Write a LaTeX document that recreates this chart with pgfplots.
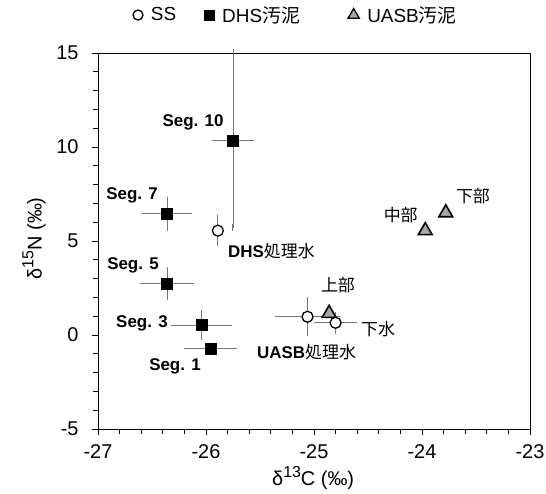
\documentclass[border=0pt]{standalone}
\usepackage{fontspec}
\setmainfont{Liberation Sans}
\newfontfamily\cjk{Noto Sans CJK JP}
\usepackage{pgfplots}
\pgfplotsset{compat=1.18}
\usepackage{pgfplotstable}

\pgfplotstableread{
x y ex ey
-25.89 5.55 0.00 0.63
-25.06 0.97 0.27 0.85
-24.80 0.65 0.17 0.40
}\ss
\pgfplotstableread{
x y ex ey
-25.96 -0.72 0.21 0.00
-26.04 0.53 0.25 0.60
-26.36 2.75 0.22 0.70
-26.36 6.45 0.20 0.73
-25.75 10.35 0.16 4.65
}\dhs
\pgfplotstableread{
x y
-24.86 1.15
-23.97 5.55
-23.78 6.50
}\uasb

\definecolor{errgray}{HTML}{777777}
\definecolor{trigray}{HTML}{A6A6A6}
\newcommand\sups[1]{\raisebox{0.42em}{\fontsize{16}{16}\selectfont #1}}

\begin{document}
\begin{tikzpicture}
\begin{axis}[
  scale only axis,
  width=432bp, height=376bp,
  xmin=-27, xmax=-23, ymin=-5, ymax=15,
  xtick={-27,-26,-25,-24,-23},
  ytick={-5,0,5,10,15},
  minor x tick num=4, minor y tick num=4,
  tick pos=left,
  tick align=outside,
  major tick length=6bp, minor tick length=5bp,
  axis line style={black, line width=0.8bp},
  every tick/.style={black, line width=0.8bp},
  /pgf/number format/assume math mode=true,
  xticklabel={\pgfmathprintnumber{\tick}},
  yticklabel={\pgfmathprintnumber{\tick}},
  tick label style={font=\fontsize{20}{22}\selectfont},
  xticklabel style={yshift=-6bp},
  yticklabel style={xshift=-10bp},
  xlabel={δ\sups{13}C (‰)},
  ylabel={δ\sups{15}N (‰)},
  label style={font=\fontsize{20}{22}\selectfont},
  xlabel style={at={(axis description cs:0.498,-0.13)}, anchor=center},
  ylabel style={at={(axis description cs:-0.148,0.507)}, anchor=center},
  clip=false,
  legend columns=3,
  legend style={draw=none, fill=none, at={(axis description cs:0.458,1.101)}, anchor=center,
    font=\fontsize{19}{22}\selectfont,
    /tikz/every odd column/.append style={column sep=6bp},
    /tikz/every even column/.append style={column sep=26bp}},
  legend image code/.code={\draw[#1] plot coordinates {(0bp,0bp)};},
  name=ax,
]
\addlegendimage{only marks, mark=*, mark size=5bp, mark options={fill=white, draw=black, line width=1.3bp}}
\addlegendentry{SS}
\addlegendimage{only marks, mark=square*, mark size=5bp, mark options={fill=black, draw=black}}
\addlegendentry{DHS{\cjk 汚泥}\kern20bp\null}
\addlegendimage{only marks, mark=triangle*, mark size=6.5bp, mark options={fill=trigray, draw=black, line width=1.3bp}}
\addlegendentry{UASB{\cjk 汚泥}}

\addplot[only marks, forget plot, mark=triangle*, mark size=8bp, mark options={fill=trigray, draw=black, line width=1.6bp}]
  table[x=x, y=y] {\uasb};

\addplot[only marks, forget plot, mark=square*, mark size=5.5bp, mark options={fill=black, draw=black},
  error bars/.cd, x dir=both, x explicit, y dir=both, y explicit,
  error bar style={errgray, line width=1bp},
  error mark options={errgray, mark size=3.5bp, line width=1bp}]
  table[x=x, y=y, x error=ex, y error=ey] {\dhs};

\addplot[only marks, forget plot, mark=*, mark size=5.5bp, mark options={fill=white, draw=black, line width=1.3bp},
  error bars/.cd, x dir=both, x explicit, y dir=both, y explicit,
  error bar style={errgray, line width=1bp},
  error mark options={errgray, mark size=3.5bp, line width=1bp}]
  table[x=x, y=y, x error=ex, y error=ey] {\ss};

\begin{scope}[font=\fontsize{17}{20}\selectfont]
\node[anchor=center] at (axis cs:-26.12,11.33) {\textbf{Seg. 10}};
\node[anchor=center] at (axis cs:-26.685,7.45) {\textbf{Seg. 7}};
\node[anchor=west, inner sep=0pt] at (axis cs:-25.796,4.48) {\textbf{DHS}{\cjk 処理水}};
\node[anchor=center] at (axis cs:-26.676,3.72) {\textbf{Seg. 5}};
\node[anchor=center] at (axis cs:-26.593,0.64) {\textbf{Seg. 3}};
\node[anchor=center] at (axis cs:-26.287,-1.65) {\textbf{Seg. 1}};
\node[anchor=west, inner sep=0pt] at (axis cs:-25.528,-0.89) {\textbf{UASB}{\cjk 処理水}};
\node[anchor=center] at (axis cs:-24.778,2.66) {\cjk 上部};
\node[anchor=center] at (axis cs:-24.407,0.32) {\cjk 下水};
\node[anchor=center] at (axis cs:-24.197,6.38) {\cjk 中部};
\node[anchor=center] at (axis cs:-23.528,7.39) {\cjk 下部};
\end{scope}

\coordinate (BL) at (rel axis cs:0,0);
\coordinate (TR) at (rel axis cs:1,1);
\end{axis}
\pgfresetboundingbox
\path ([shift={(-98bp,-65bp)}]BL) rectangle ([shift={(16bp,53bp)}]TR);
\end{tikzpicture}
\end{document}
